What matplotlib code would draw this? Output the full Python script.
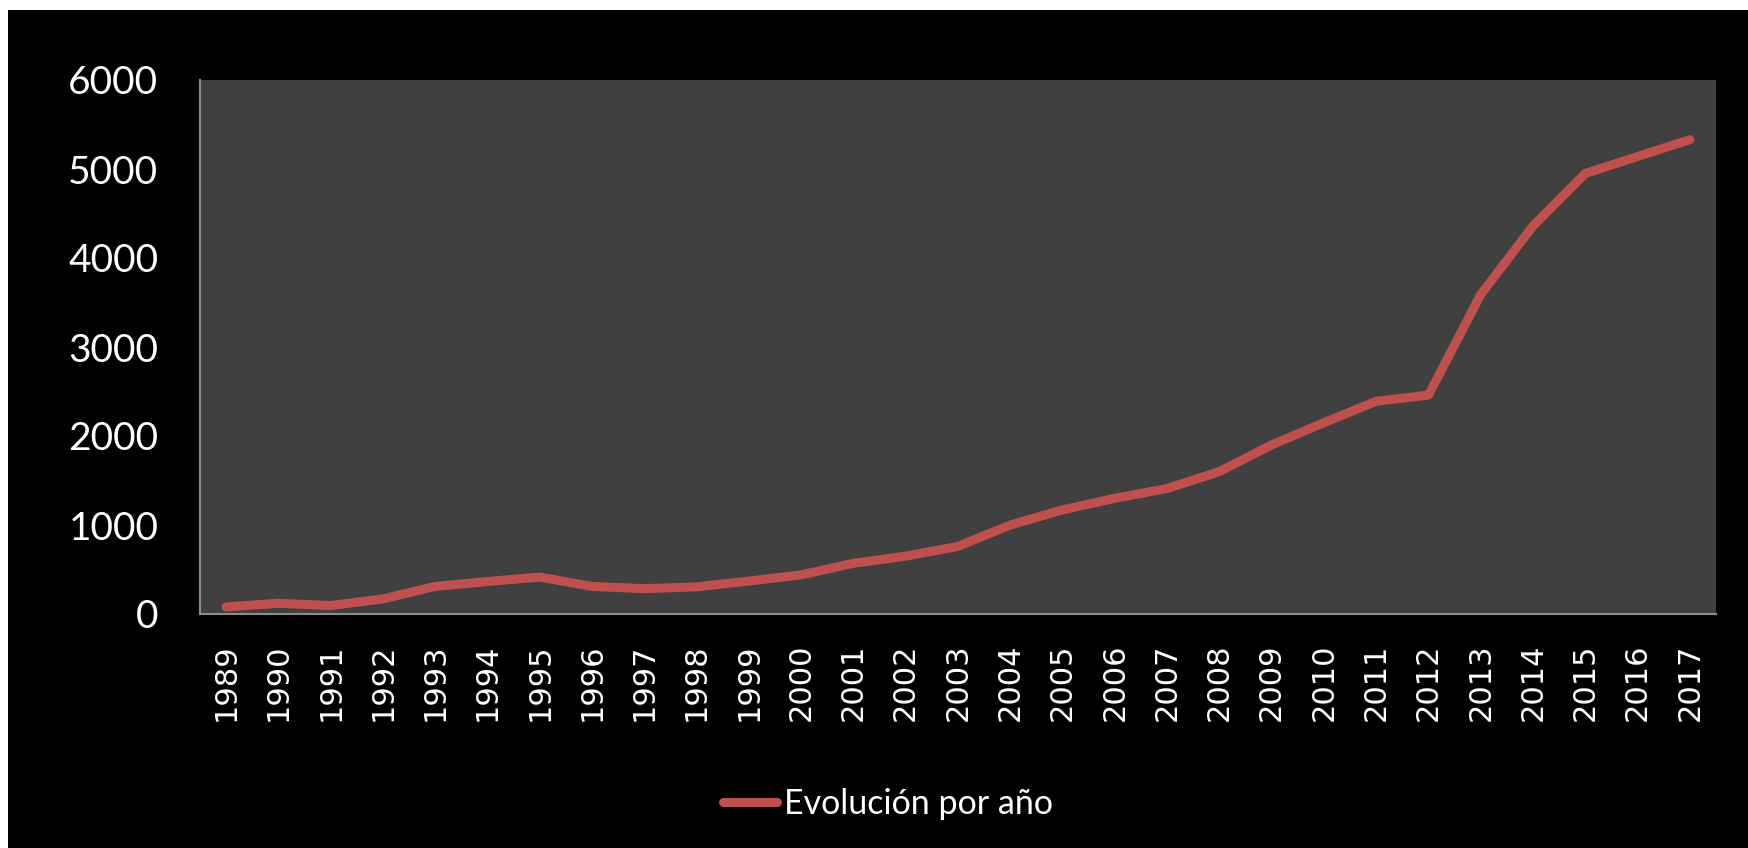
import matplotlib.pyplot as plt
from matplotlib.patches import Rectangle

# datos
years = [str(y) for y in range(1989, 2018)]
values = [80, 120, 95, 170, 310, 365, 415, 310, 285, 305,
          370, 440, 570, 650, 760, 1000, 1170, 1300, 1410, 1600,
          1900, 2150, 2390, 2460, 3590, 4360, 4950, 5140, 5330]
series_name = "Evolución por año"
y_ticks = [0, 1000, 2000, 3000, 4000, 5000, 6000]

W, H = 1748, 848
fig = plt.figure(figsize=(W / 100, H / 100), dpi=100)
fig.patch.set_facecolor("black")

# franjas blancas arriba e izquierda
fig.add_artist(Rectangle((0, 1 - 10 / H), 1, 10 / H, transform=fig.transFigure,
                         facecolor="white", edgecolor="none", zorder=0))
fig.add_artist(Rectangle((0, 0), 8 / W, 1, transform=fig.transFigure,
                         facecolor="white", edgecolor="none", zorder=0))

ax = fig.add_axes([200 / W, (H - 614) / H, (1716 - 200) / W, (614 - 80) / H])
ax.set_facecolor("#404040")

x = list(range(len(years)))
ax.plot(x, values, color="#C0504D", linewidth=6.5, solid_capstyle="round",
        solid_joinstyle="round", label=series_name)

ax.set_xlim(-0.5, len(years) - 0.5)
ax.set_ylim(0, 6000)
ax.set_yticks(y_ticks)
ax.set_yticklabels([str(t) for t in y_ticks], fontfamily="Lato", fontsize=28, color="white")
ax.set_xticks(x)
ax.set_xticklabels(years, rotation=90, fontfamily="DejaVu Sans", fontsize=22, color="white")
ax.tick_params(axis="both", length=0)
ax.tick_params(axis="y", pad=30)
ax.tick_params(axis="x", pad=21)

for side in ["top", "right"]:
    ax.spines[side].set_visible(False)
for side in ["left", "bottom"]:
    ax.spines[side].set_color("#8c8c8c")
    ax.spines[side].set_linewidth(1.5)

leg = fig.legend(loc="center", bbox_to_anchor=(888 / W, (H - 804) / H),
                 frameon=False, prop={"family": "Lato", "size": 24.5},
                 handlelength=1.6, handletextpad=0.2)
for t in leg.get_texts():
    t.set_color("white")

fig.savefig("out.png", dpi=100, facecolor=fig.get_facecolor())
